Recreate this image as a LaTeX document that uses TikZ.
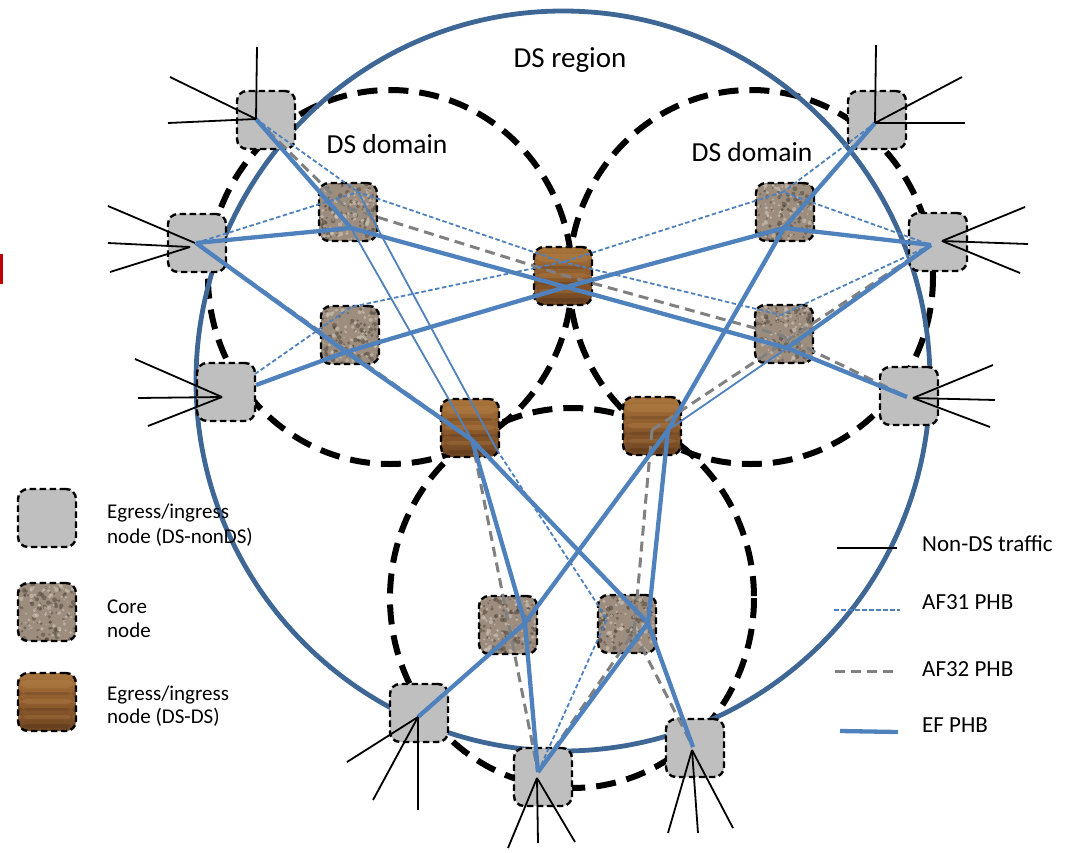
\documentclass[tikz,border=0pt]{standalone}
\usepackage{fontspec}
\setmainfont{Carlito}
\usetikzlibrary{calc}
\definecolor{regionblue}{HTML}{3F6795}
\definecolor{efblue}{HTML}{4F81BD}
\definecolor{afgray}{HTML}{808080}
\definecolor{nodegray}{HTML}{BFBFBF}
\definecolor{stonebase}{HTML}{9C8D7E}
\definecolor{stonedark}{HTML}{4E443B}
\definecolor{stonelight}{HTML}{D6CCC0}
\definecolor{woodtop}{HTML}{A8743C}
\definecolor{woodmid}{HTML}{8E5C2D}
\definecolor{woodbot}{HTML}{6E4522}
\definecolor{wooddark}{HTML}{55331A}
\definecolor{woodlight}{HTML}{BE8A52}
\definecolor{cutred}{HTML}{C00000}
\newcommand\stonetexture{%
  \coordinate (ppc) at (path picture bounding box.center);
  \foreach \k in {1,...,110}{\fill[stonedark,opacity=0.5] (ppc) ++(rnd*64-32,rnd*64-32) circle[radius=0.8+rnd*1.7];}
  \foreach \k in {1,...,90}{\fill[stonelight,opacity=0.55] (ppc) ++(rnd*64-32,rnd*64-32) circle[radius=0.7+rnd*1.5];}
}
\newcommand\woodtexture{%
  \coordinate (ppw) at (path picture bounding box.west);
  \coordinate (ppe) at (path picture bounding box.east);
  \fill[woodlight,opacity=0.30] ([yshift=22pt]ppw) rectangle ([yshift=14pt]ppe);
  \fill[wooddark,opacity=0.25] ([yshift=10pt]ppw) rectangle ([yshift=7pt]ppe);
  \fill[woodlight,opacity=0.30] ([yshift=3pt]ppw) rectangle ([yshift=-2pt]ppe);
  \fill[wooddark,opacity=0.30] ([yshift=-6pt]ppw) rectangle ([yshift=-9pt]ppe);
  \fill[woodlight,opacity=0.25] ([yshift=-13pt]ppw) rectangle ([yshift=-17pt]ppe);
  \fill[wooddark,opacity=0.40] ([yshift=-22pt]ppw) rectangle ([yshift=-26pt]ppe);
}
\tikzset{
  nodebase/.style={minimum width=58pt, minimum height=58pt, rounded corners=10pt, inner sep=0pt},
  nbord/.style={draw=black, line width=2.4pt, dash pattern=on 6.5pt off 3.5pt},
  gnode/.style={nodebase, nbord, fill=nodegray},
  cnode/.style={nodebase, nbord, fill=stonebase, path picture={\stonetexture}},
  wnode/.style={nodebase, nbord, top color=woodtop, bottom color=woodbot, middle color=woodmid, path picture={\woodtexture}},
  dsregion/.style={draw=regionblue, line width=4.8pt},
  dsdomain/.style={draw=black, line width=6pt, dash pattern=on 20pt off 11pt},
  ef/.style={draw=efblue, line width=4.3pt, line join=round},
  thinb/.style={draw=efblue, line width=1.8pt},
  af31/.style={draw=efblue, line width=1.8pt, dash pattern=on 4.5pt off 2.5pt},
  af32/.style={draw=afgray, line width=3pt, dash pattern=on 10pt off 6pt},
  nonds/.style={draw=black, line width=1.8pt},
  bigtext/.style={anchor=base, inner sep=0pt},
  legtext/.style={anchor=base west, inner sep=0pt, font=\fontsize{21}{25}\selectfont},
  rlegtext/.style={anchor=base west, inner sep=0pt, font=\fontsize{23}{27}\selectfont},
}
\begin{document}
\begin{tikzpicture}[x=1pt,y=-1pt]
\pgfmathsetseed{7}
\useasboundingbox (0,0) rectangle (1074,852);
% cut-off red glyph at the left edge
\fill[cutred] (0,254) rectangle (3,284);
% domains and region
\draw[dsdomain] (390,277) ellipse (182 and 187);
\draw[dsdomain] (751,277) ellipse (182 and 187);
\draw[dsdomain] (572,598) ellipse (182 and 190);
\draw[dsregion] (563,381) ellipse (367 and 370);
% nodes
\node[gnode] (G1) at (266,120) {};
\node[gnode] (G2) at (197,243) {};
\node[gnode] (G3) at (226,392) {};
\node[gnode] (G4) at (877,120) {};
\node[gnode] (G5) at (938,242) {};
\node[gnode] (G6) at (909,396) {};
\node[gnode] (G7) at (419,713) {};
\node[gnode] (G8) at (543,777) {};
\node[gnode] (G9) at (695,748) {};
\node[cnode] (C1) at (348,212) {};
\node[cnode] (C2) at (350,335) {};
\node[cnode] (C3) at (785,212) {};
\node[cnode] (C4) at (784,334) {};
\node[cnode] (C5) at (508,625) {};
\node[cnode] (C6) at (627,624) {};
\node[wnode] (B1) at (563,276) {};
\node[wnode] (B2) at (470,428) {};
\node[wnode] (B3) at (652,426) {};
% hub points
\coordinate (G1h) at (256,119);
\coordinate (G2h) at (196,243);
\coordinate (G3e) at (256,385);
\coordinate (G3a) at (255,374);
\coordinate (G4h) at (875,123);
\coordinate (G5h) at (931,245);
\coordinate (G6h) at (907,397);
\coordinate (G7h) at (418,717);
\coordinate (G8h) at (538,772);
\coordinate (G9h) at (693,747);
\coordinate (C1h) at (351,228);
\coordinate (C1a) at (358,192);
\coordinate (C1g) at (345,207);
\coordinate (C2h) at (346,352);
\coordinate (C2a) at (351,307);
\coordinate (C3h) at (784,228);
\coordinate (C3a) at (783,192);
\coordinate (C4h) at (787,348);
\coordinate (C4a) at (781,315);
\coordinate (C4g) at (780,335);
\coordinate (C5h) at (525,623);
\coordinate (C6h) at (648,623);
\coordinate (C6l) at (607,619);
\coordinate (C6g) at (634,632);
\coordinate (B1h) at (566,287);
\coordinate (B1a) at (563,262);
\coordinate (B1g) at (563,275);
\coordinate (B2h) at (472,440);
\coordinate (B2r) at (497,450);
\coordinate (B3h) at (668,430);
\coordinate (B3g) at (652,430);
% AF32 PHB
\draw[af32] (G1h) -- (C1g) -- (B1g) -- (C4g) -- (G6h);
\draw[af32] (G2h) -- (B2h) -- (G8h);
\draw[af32] (B3g) -- (G5h);
\draw[af32] (B3g) -- (C6g) -- (G8h);
\draw[af32] (C6g) -- (G9h);
% AF31 PHB
\draw[af31] (G1h) -- (C1a);
\draw[af31] (G2h) -- (C1a) -- (B1a) -- (C4a) -- (G5h);
\draw[af31] (G3a) -- (C2a) -- (B1a) -- (C3a) -- (G5h);
\draw[af31] (G4h) -- (C3a);
\draw[af31] (B2r) -- (C6l) -- (G8h);
% thin solid
\draw[thinb] (C1h) -- (B2h);
\draw[thinb] (C1a) -- (B2r);
\draw[thinb] (C4h) -- (B3h);
% EF PHB
\draw[ef] (G1h) -- (C1h);
\draw[ef] (G2h) -- (C1h) -- (B1h) -- (C4h) -- (G6h);
\draw[ef] (G3e) -- (C2h) -- (B1h) -- (C3h) -- (G5h);
\draw[ef] (G2h) -- (C2h) -- (B2h);
\draw[ef] (B2h) -- (C5h) -- (G8h);
\draw[ef] (B2h) -- (C6h) -- (G9h);
\draw[ef] (G4h) -- (C3h) -- (B3h) -- (C5h) -- (G7h);
\draw[ef] (G5h) -- (C4h);
\draw[ef] (B3h) -- (C6h) -- (G8h);
% non-DS traffic
\coordinate (G2n1) at (195,243);
\coordinate (G2n2) at (190,247);
\coordinate (G3n) at (222,397);
\coordinate (G5n) at (942,241);
\coordinate (G6n) at (913,398);
\coordinate (G8n) at (537,778);
\coordinate (G9n) at (692,750);
\foreach \h/\e/\ex/\ey in {G1h/e1/257/47, G1h/e2/170/77, G1h/e3/168/123,
  G2n1/e4/108/206, G2n2/e5/108/243, G2n2/e6/110/272,
  G3n/e7/135/359, G3n/e8/138/398, G3n/e9/148/426,
  G4h/e10/876/45, G4h/e11/962/77, G4h/e12/965/123,
  G5n/e13/1025/207, G5n/e14/1028/244, G5n/e15/1020/273,
  G6n/e16/993/365, G6n/e17/995/400, G6n/e18/990/427,
  G7h/e19/347/762, G7h/e20/373/800, G7h/e21/418/810,
  G8n/e22/508/848, G8n/e23/538/843, G8n/e24/575/842,
  G9n/e25/668/833, G9n/e26/698/833, G9n/e27/733/828}{
  \coordinate (\e) at (\ex,\ey);
  \draw[nonds] (\h) -- (\e);
}
% titles
\node[bigtext, font=\fontsize{29}{32}\selectfont] (treg) at (570,67) {DS region};
\node[bigtext, font=\fontsize{27.5}{32}\selectfont] (tdl) at (387,153) {DS domain};
\node[bigtext, font=\fontsize{27.5}{32}\selectfont] (tdr) at (752,161) {DS domain};
% left legend
\node[gnode] (LG) at (47,518) {};
\node[cnode] (LC) at (47,612) {};
\node[wnode] (LW) at (47,702) {};
\node[legtext] (lg1) at (107,518) {Egress/ingress};
\node[legtext] (lg2) at (107,543) {node (DS-nonDS)};
\node[legtext] (lc1) at (107,613) {Core};
\node[legtext] (lc2) at (107,637) {node};
\node[legtext] (lw1) at (107,700) {Egress/ingress};
\node[legtext] (lw2) at (107,723) {node (DS-DS)};
% right legend
\coordinate (k1a) at (837,548); \coordinate (k1b) at (897,548);
\coordinate (k2a) at (834,610); \coordinate (k2b) at (900,610);
\coordinate (k3a) at (835,671); \coordinate (k3b) at (897,671);
\coordinate (k4a) at (840,731); \coordinate (k4b) at (898,732);
\draw[nonds] (k1a) -- (k1b);
\draw[af31] (k2a) -- (k2b);
\draw[af32] (k3a) -- (k3b);
\draw[ef] (k4a) -- (k4b);
\node[rlegtext] (r1) at (922,551) {Non-DS traffic};
\node[rlegtext] (r2) at (922,609) {AF31 PHB};
\node[rlegtext] (r3) at (922,676) {AF32 PHB};
\node[rlegtext] (r4) at (922,732) {EF PHB};
\end{tikzpicture}
\end{document}
